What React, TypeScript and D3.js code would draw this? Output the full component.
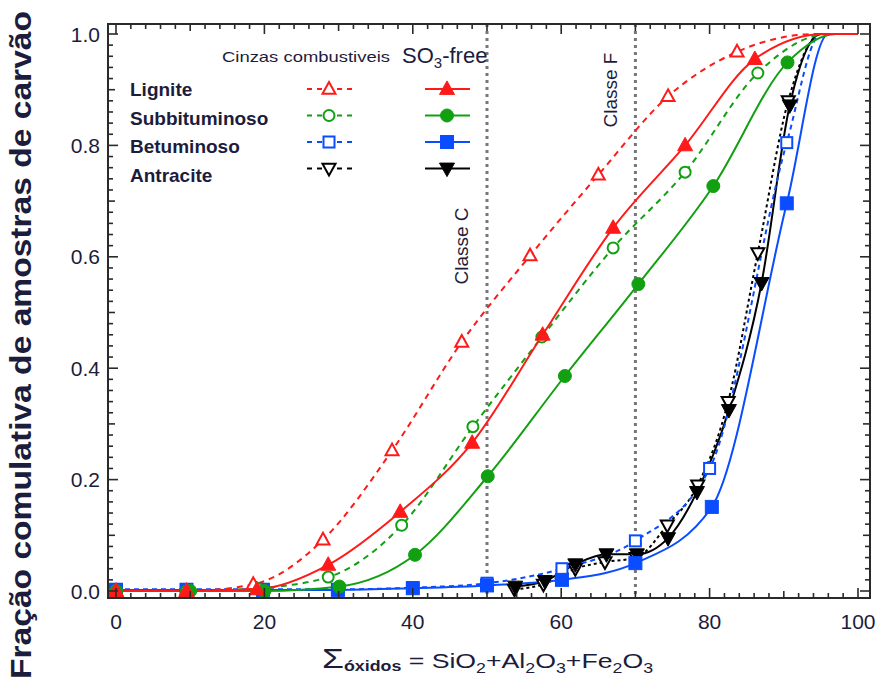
import React from "react";
import * as d3 from "d3";

// ---------- data ----------
const ligOpenX = [0, 9.5, 18.5, 27.9, 37.2, 46.6, 55.8, 65.0, 74.4, 83.7, 94.5, 100];
const ligOpenY = [0, 0, 0.012, 0.092, 0.252, 0.447, 0.602, 0.747, 0.888, 0.968, 1.0, 1.0];
const ligFillX = [0, 9.5, 19.0, 28.6, 38.3, 48.0, 57.5, 67.0, 76.7, 86.1, 95.5, 100];
const ligFillY = [0, 0, 0.003, 0.047, 0.142, 0.266, 0.46, 0.652, 0.8, 0.955, 1.0, 1.0];
const subOpenX = [0, 9.5, 19.0, 28.6, 38.5, 48.1, 57.4, 67.0, 76.7, 86.5, 96, 100];
const subOpenY = [0, 0, 0.005, 0.025, 0.118, 0.295, 0.456, 0.616, 0.752, 0.93, 1.0, 1.0];
const subFillX = [0, 10, 20, 30.1, 40.3, 50.1, 60.5, 70.4, 80.5, 90.5, 97, 100];
const subFillY = [0, 0, 0, 0.008, 0.065, 0.206, 0.386, 0.551, 0.727, 0.949, 1.0, 1.0];
const betFillX = [0, 9.5, 19.8, 29.9, 40.0, 50.0, 60.1, 70.0, 80.3, 90.4, 96, 100];
const betFillY = [0.002, 0.002, 0.002, 0.002, 0.005, 0.01, 0.02, 0.05, 0.151, 0.696, 1.0, 1.0];
const betOpenX = [0, 9.5, 19.8, 29.9, 40.0, 50.0, 60.1, 70.0, 80.0, 90.4, 95, 100];
const betOpenY = [0.003, 0.003, 0.003, 0.003, 0.006, 0.014, 0.04, 0.09, 0.22, 0.805, 1.0, 1.0];
const antFillX = [53.8, 57.8, 61.9, 66.1, 70.2, 74.4, 78.3, 82.6, 87.0, 90.8, 95, 100];
const antFillY = [0.008, 0.018, 0.048, 0.066, 0.066, 0.095, 0.178, 0.325, 0.553, 0.872, 1.0, 1.0];
const antOpenX = [53.7, 57.6, 61.9, 65.9, 70.1, 74.3, 78.4, 82.5, 86.5, 90.6, 95, 100];
const antOpenY = [0.003, 0.012, 0.04, 0.052, 0.06, 0.118, 0.19, 0.34, 0.607, 0.88, 1.0, 1.0];

const categories = ["Lignite", "Subbituminoso", "Betuminoso", "Antracite"];
const colors = ["#ff1a1a", "#12a012", "#0a4cff", "#000000"];
const shapes = ["triUp", "circle", "square", "triDown"];

const xTicks = [0, 20, 40, 60, 80, 100];
const yTicks = [0, 0.2, 0.4, 0.6, 0.8, 1.0];
const classLines = [50, 70];
const classLabels = ["Classe C", "Classe F"];

const openSeries = [
  [ligOpenX, ligOpenY],
  [subOpenX, subOpenY],
  [betOpenX, betOpenY],
  [antOpenX, antOpenY],
];
const fillSeries = [
  [ligFillX, ligFillY],
  [subFillX, subFillY],
  [betFillX, betFillY],
  [antFillX, antFillY],
];
const dashes = ["6,5", "6,5", "5,4", "3,3"];

// ---------- layout ----------
const W = 883, H = 680;
const L = 108, R = 870, T = 24, B = 598;
const x = d3.scaleLinear().domain([0, 100]).range([116, 858]);
const y = d3.scaleLinear().domain([0, 1]).range([591, 34]);
const FONT = "'Liberation Sans', Arial, sans-serif";
const TXT = "#1c1c3c";

function Marker({ shape, cx, cy, color, open }: any) {
  const fill = open ? "#fff" : color;
  const sw = open ? 2 : 1;
  if (shape === "circle") {
    const r = open ? 5.5 : 6.5;
    return <circle cx={cx} cy={cy} r={r} fill={fill} stroke={color} strokeWidth={sw} />;
  }
  if (shape === "square") {
    const s = open ? 11 : 13;
    return <rect x={cx - s / 2} y={cy - s / 2} width={s} height={s} fill={fill} stroke={color} strokeWidth={sw} />;
  }
  const s = open ? 13 : 15;
  const h = s * 0.9;
  const pts =
    shape === "triUp"
      ? [[cx, cy - h * 0.6], [cx - s / 2, cy + h * 0.4], [cx + s / 2, cy + h * 0.4]]
      : [[cx, cy + h * 0.6], [cx - s / 2, cy - h * 0.4], [cx + s / 2, cy - h * 0.4]];
  return <polygon points={pts.map((p) => p.join(",")).join(" ")} fill={fill} stroke={color} strokeWidth={sw} strokeLinejoin="miter" />;
}

export default function App() {
  const line = d3
    .line<[number, number]>()
    .x((d) => x(d[0]))
    .y((d) => y(d[1]))
    .curve(d3.curveMonotoneX);

  const minorX = d3.range(0, 101, 2);
  const minorY = d3.range(0, 51).map((i) => i / 50);
  const tickLen = (isMajor: boolean, isMid: boolean) => (isMajor ? 10 : isMid ? 7 : 5);

  const order = [3, 2, 1, 0];

  return (
    <svg width={W} height={H} style={{ display: "block", position: "absolute", left: 0, top: 0, background: "#fff" }}>
      <rect x={0} y={0} width={W} height={H} fill="#fff" />
      {/* class lines */}
      {classLines.map((c, i) => (
        <line key={"cl" + i} x1={x(c)} x2={x(c)} y1={T} y2={B} stroke="#777" strokeWidth={3} strokeDasharray="3,4" />
      ))}
      <text transform={`translate(468,246) rotate(-90)`} textAnchor="middle" fontFamily={FONT} fontSize={19} fill={TXT}>
        {classLabels[0]}
      </text>
      <text transform={`translate(617,90) rotate(-90)`} textAnchor="middle" fontFamily={FONT} fontSize={19} fill={TXT}>
        {classLabels[1]}
      </text>

      {/* series */}
      {order.map((i) => {
        const od = openSeries[i][0].map((v, k) => [v, openSeries[i][1][k]] as [number, number]);
        const fd = fillSeries[i][0].map((v, k) => [v, fillSeries[i][1][k]] as [number, number]);
        return (
          <g key={"s" + i}>
            <path d={line(od) || ""} fill="none" stroke={colors[i]} strokeWidth={2} strokeDasharray={dashes[i]} />
            <path d={line(fd) || ""} fill="none" stroke={colors[i]} strokeWidth={2} />
          </g>
        );
      })}
      {order.map((i) => {
        const od = openSeries[i][0].map((v, k) => [v, openSeries[i][1][k]] as [number, number]);
        const fd = fillSeries[i][0].map((v, k) => [v, fillSeries[i][1][k]] as [number, number]);
        return (
          <g key={"m" + i}>
            {od.filter((d) => d[1] < 1).map((d, k) => (
              <Marker key={"o" + k} shape={shapes[i]} cx={x(d[0])} cy={y(d[1])} color={colors[i]} open />
            ))}
            {fd.filter((d) => d[1] < 1).map((d, k) => (
              <Marker key={"f" + k} shape={shapes[i]} cx={x(d[0])} cy={y(d[1])} color={colors[i]} open={false} />
            ))}
          </g>
        );
      })}

      {/* frame */}
      <rect x={L} y={T} width={R - L} height={B - T} fill="none" stroke="#2a2a2a" strokeWidth={2} />
      {minorX.map((v) => {
        const len = tickLen(v % 20 === 0, v % 10 === 0);
        return (
          <g key={"tx" + v}>
            <line x1={x(v)} x2={x(v)} y1={B} y2={B - len} stroke="#2a2a2a" strokeWidth={1.6} />
            <line x1={x(v)} x2={x(v)} y1={T} y2={T + len} stroke="#2a2a2a" strokeWidth={1.6} />
          </g>
        );
      })}
      {minorY.map((v, k) => {
        const len = tickLen(k % 10 === 0, k % 5 === 0);
        return (
          <g key={"ty" + k}>
            <line x1={L} x2={L + len} y1={y(v)} y2={y(v)} stroke="#2a2a2a" strokeWidth={1.6} />
            <line x1={R} x2={R - len} y1={y(v)} y2={y(v)} stroke="#2a2a2a" strokeWidth={1.6} />
          </g>
        );
      })}
      {xTicks.map((v) => (
        <text key={"xl" + v} x={x(v)} y={629} textAnchor="middle" fontFamily={FONT} fontSize={21} fill={TXT}>
          {v}
        </text>
      ))}
      {yTicks.map((v) => (
        <text key={"yl" + v} x={100} y={y(v) + 7.5} textAnchor="end" fontFamily={FONT} fontSize={21} fill={TXT}>
          {v.toFixed(1)}
        </text>
      ))}

      {/* axis titles */}
      <text
        transform={`translate(31,345) rotate(-90)`}
        textAnchor="middle"
        fontFamily={FONT}
        fontWeight="bold"
        fontSize={29}
        fill={TXT}
        textLength={668}
        lengthAdjust="spacingAndGlyphs"
      >
        Fração comulativa de amostras de carvão
      </text>
      <g transform="translate(322,668) scale(1.27,1)">
        <text x={0} y={0} fontFamily={FONT} fill={TXT}>
          <tspan fontSize={28}>Σ</tspan>
          <tspan fontSize={14} fontWeight="bold" dy={3}>óxidos</tspan>
          <tspan fontSize={21} dy={-3}> = SiO</tspan>
          <tspan fontSize={14} dy={5}>2</tspan>
          <tspan fontSize={21} dy={-5}>+Al</tspan>
          <tspan fontSize={14} dy={5}>2</tspan>
          <tspan fontSize={21} dy={-5}>O</tspan>
          <tspan fontSize={14} dy={5}>3</tspan>
          <tspan fontSize={21} dy={-5}>+Fe</tspan>
          <tspan fontSize={14} dy={5}>2</tspan>
          <tspan fontSize={21} dy={-5}>O</tspan>
          <tspan fontSize={14} dy={5}>3</tspan>
        </text>
      </g>

      {/* legend */}
      <text x={222} y={62} fontFamily={FONT} fontSize={15} fill={TXT} textLength={168} lengthAdjust="spacingAndGlyphs">
        Cinzas combustiveis
      </text>
      <text x={402} y={63} fontFamily={FONT} fontSize={22} fill={TXT}>
        SO<tspan fontSize={15} dy={5}>3</tspan>
        <tspan dy={-5}>-free</tspan>
      </text>
      {categories.map((c, i) => {
        const my = 89 + i * 26.5;
        return (
          <g key={"lg" + i}>
            <text x={130} y={96 + i * 28.5} fontFamily={FONT} fontWeight="bold" fontSize={19} fill={TXT}>
              {c}
            </text>
            <line x1={307} x2={352} y1={my} y2={my} stroke={colors[i]} strokeWidth={2} strokeDasharray="5,5" />
            <Marker shape={shapes[i]} cx={329} cy={my} color={colors[i]} open />
            <line x1={425} x2={470} y1={my} y2={my} stroke={colors[i]} strokeWidth={2} />
            <Marker shape={shapes[i]} cx={447} cy={my} color={colors[i]} open={false} />
          </g>
        );
      })}
    </svg>
  );
}
